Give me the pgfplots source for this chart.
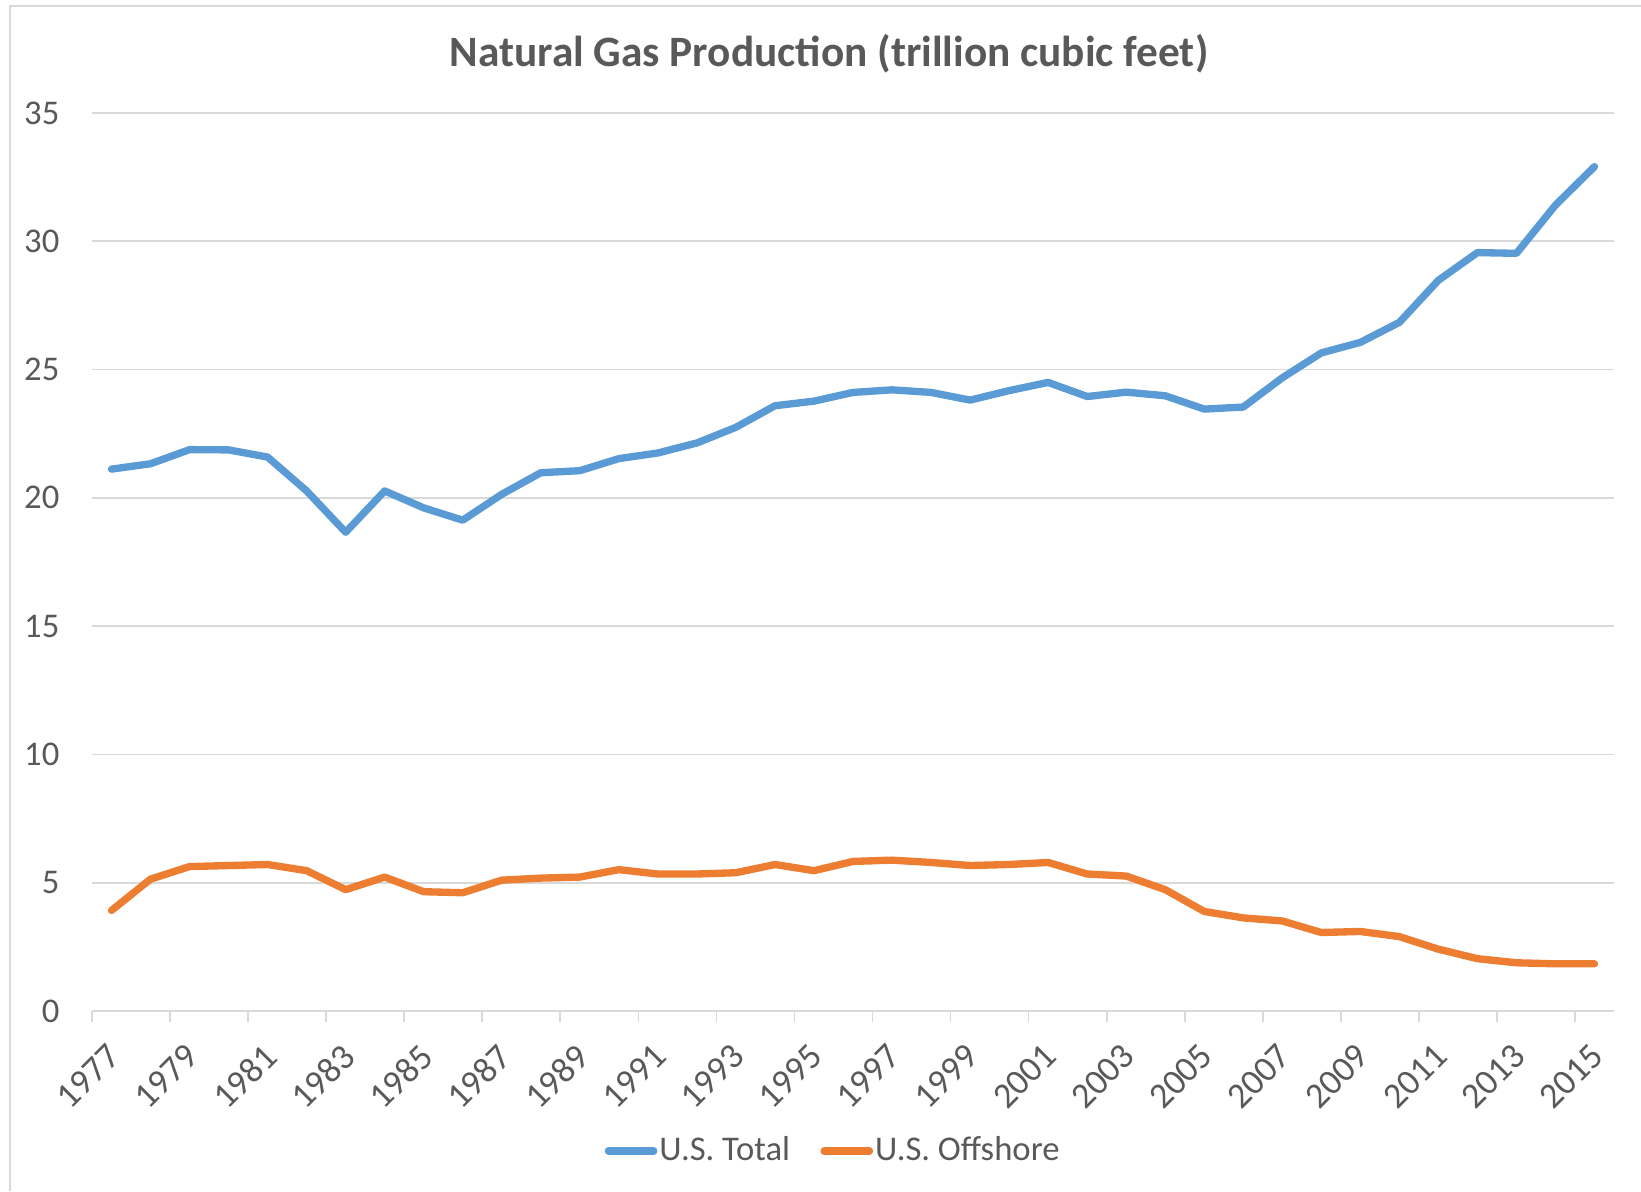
\documentclass[border=0pt]{standalone}
\usepackage{fontspec}
\setmainfont{Carlito}
\usepackage{pgfplots}
\pgfplotsset{compat=1.18}
\definecolor{cblue}{HTML}{5B9BD5}
\definecolor{corange}{HTML}{ED7D31}
\definecolor{cgrid}{HTML}{D9D9D9}
\definecolor{ctext}{HTML}{595959}
\begin{document}
\begin{tikzpicture}
\begin{axis}[
  at={(27.6pt,54pt)}, anchor=south west,
  scale only axis, width=456.6pt, height=269.4pt,
  xmin=-0.5, xmax=38.5, ymin=0, ymax=35,
  axis x line*=bottom, axis y line*=left,
  x axis line style={draw=cgrid, line width=0.6pt},
  y axis line style={draw=none},
  ytick={0,5,...,35},
  ymajorgrids, grid style={cgrid, line width=0.5pt},
  xtick={0,2,...,38},
  xticklabels={1977,1979,1981,1983,1985,1987,1989,1991,1993,1995,1997,1999,2001,2003,2005,2007,2009,2011,2013,2015},
  major tick length=0pt,
  minor xtick={-0.5,1.5,...,37.5},
  minor tick length=3.3pt,
  tick align=outside,
  minor tick style={cgrid, line width=0.5pt},
  /pgf/number format/assume math mode=true,
  ticklabel style={font=\fontsize{10.4}{12.5}\selectfont, text=ctext},
  yticklabel style={anchor=east, inner sep=0pt, xshift=-9.6pt},
  xticklabel style={font=\fontsize{10.8}{12.5}\selectfont, inner sep=0pt, xshift=-1.8pt, yshift=-9pt, rotate=45, anchor=north east},
  legend style={at={(0.487,-0.156)}, anchor=center, legend columns=2, draw=none, fill=none,
    font=\fontsize{10.4}{12.5}\selectfont, text=ctext, nodes={inner sep=0.6pt},
    /tikz/every even column/.append style={column sep=8.5pt}},
  legend image code/.code={\draw[#1, line cap=round] (0pt,0pt) -- (13.6pt,0pt);},
  every axis plot/.append style={line width=2.2pt, line join=round, line cap=round, mark=none},
]
\addplot[cblue] coordinates {
(0,21.12) (1,21.33) (2,21.88) (3,21.87) (4,21.59) (5,20.27) (6,18.66) (7,20.27) (8,19.61) (9,19.13)
(10,20.14) (11,20.98) (12,21.06) (13,21.53) (14,21.75) (15,22.14) (16,22.75) (17,23.59) (18,23.77) (19,24.11)
(20,24.21) (21,24.11) (22,23.81) (23,24.18) (24,24.50) (25,23.95) (26,24.12) (27,23.98) (28,23.46) (29,23.54)
(30,24.68) (31,25.65) (32,26.06) (33,26.84) (34,28.48) (35,29.56) (36,29.53) (37,31.41) (38,32.91)
};
\addlegendentry{U.S. Total}
\addplot[corange] coordinates {
(0,3.92) (1,5.14) (2,5.63) (3,5.67) (4,5.71) (5,5.47) (6,4.73) (7,5.22) (8,4.65) (9,4.61)
(10,5.10) (11,5.18) (12,5.22) (13,5.51) (14,5.34) (15,5.34) (16,5.39) (17,5.71) (18,5.47) (19,5.83)
(20,5.88) (21,5.79) (22,5.67) (23,5.71) (24,5.79) (25,5.34) (26,5.26) (27,4.73) (28,3.88) (29,3.63)
(30,3.51) (31,3.06) (32,3.10) (33,2.90) (34,2.41) (35,2.04) (36,1.88) (37,1.84) (38,1.84)
};
\addlegendentry{U.S. Offshore}
\end{axis}
\node[font=\bfseries\fontsize{13}{15.5}\selectfont, text=ctext] at (248.7pt,341.1pt) {Natural Gas Production (trillion cubic feet)};
\draw[cgrid, line width=0.6pt] (3pt,0pt) -- (3pt,355.4pt) -- (492.3pt,355.4pt);
\pgfresetboundingbox
\useasboundingbox (0pt,0pt) rectangle (492.3pt,357.3pt);
\end{tikzpicture}
\end{document}
